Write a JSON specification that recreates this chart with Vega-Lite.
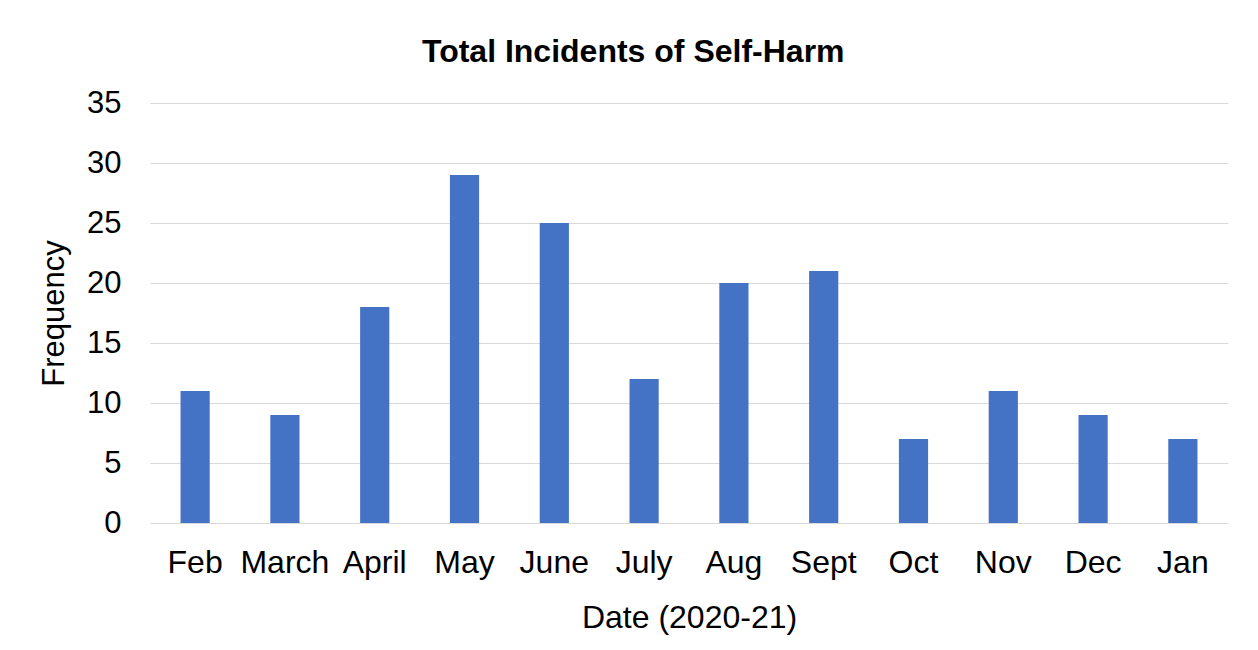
{
  "$schema": "https://vega.github.io/schema/vega-lite/v6.json",
  "autosize": {"type": "none"},
  "width": 1078,
  "height": 420,
  "padding": {"left": 150, "top": 103, "right": 30, "bottom": 127},
  "background": "white",
  "title": {
    "text": "Total Incidents of Self-Harm",
    "font": "Liberation Sans",
    "fontSize": 32,
    "fontWeight": "bold",
    "color": "black",
    "offset": 18,
    "anchor": "middle",
    "frame": "bounds"
  },
  "config": {
    "view": {"stroke": null},
    "font": "Liberation Sans"
  },
  "data": {
    "values": [
      {"month": "Feb", "count": 11},
      {"month": "March", "count": 9},
      {"month": "April", "count": 18},
      {"month": "May", "count": 29},
      {"month": "June", "count": 25},
      {"month": "July", "count": 12},
      {"month": "Aug", "count": 20},
      {"month": "Sept", "count": 21},
      {"month": "Oct", "count": 7},
      {"month": "Nov", "count": 11},
      {"month": "Dec", "count": 9},
      {"month": "Jan", "count": 7}
    ]
  },
  "mark": {"type": "bar", "color": "#4472C4"},
  "encoding": {
    "x": {
      "field": "month",
      "type": "nominal",
      "sort": null,
      "scale": {"paddingInner": 0.675, "paddingOuter": 0.34},
      "axis": {
        "title": "Date (2020-21)",
        "titleFont": "Liberation Sans",
        "titleFontSize": 32,
        "titleFontWeight": "normal",
        "titleColor": "black",
        "titlePadding": 24,
        "labelFont": "Liberation Sans",
        "labelFontSize": 32,
        "labelColor": "black",
        "labelAngle": 0,
        "labelPadding": 24,
        "ticks": false,
        "domainColor": "#d9d9d9",
        "domainWidth": 1
      }
    },
    "y": {
      "field": "count",
      "type": "quantitative",
      "scale": {"domain": [0, 35]},
      "axis": {
        "title": "Frequency",
        "titleFont": "Liberation Sans",
        "titleFontSize": 31,
        "titleFontWeight": "normal",
        "titleColor": "black",
        "titlePadding": 16,
        "labelFont": "Liberation Sans",
        "labelFontSize": 31,
        "labelColor": "black",
        "labelPadding": 29,
        "values": [0, 5, 10, 15, 20, 25, 30, 35],
        "ticks": false,
        "domain": false,
        "gridColor": "#d9d9d9",
        "gridWidth": 1
      }
    }
  }
}
